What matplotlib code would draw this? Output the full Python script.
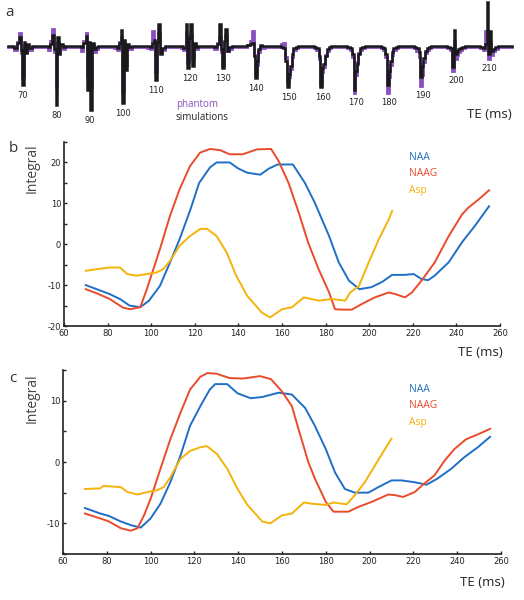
import matplotlib
matplotlib.use("Agg")
import matplotlib.pyplot as plt
import numpy as np

# ---------------- data ----------------
# panel a: spectra per TE (amplitudes, arbitrary units; sampled at fixed offsets around each peak group)
te_a = [70, 80, 90, 100, 110, 120, 130, 140, 150, 160, 170, 180, 190, 200, 210]
sim_a = [
    [0, -2, 3, 9, -4, -39, 4, -7, 2, -2, 0],
    [0, -1, 2, 11, -3, -59, 9, -8, 2, -1, 0],
    [0, -1, 3, 10, -44, 4, -64, 3, -3, -1, 0],
    [0, 0, -2, 3, 16, -57, 6, -24, 2, -1, 0],
    [0, 0, -1, 3, 6, -34, 4, 22, -8, -2, 0],
    [0, 0, -2, 22, -22, 8, 22, -20, 3, -1, 0],
    [0, -1, 2, 22, -3, -22, 5, 17, -5, -1, 0],
    [0, 1, 2, 3, -10, -32, -15, -3, 1, 0, 0],
    [0, -1, -2, -15, -41, -28, -20, -8, -2, -1, 0],
    [0, -1, -2, -10, -41, -22, -18, -10, -3, -1, 0],
    [0, -1, -2, -8, -44, -25, -18, -8, -2, -1, 0],
    [0, -1, -2, -8, -39, -25, -15, -6, -2, -1, 0],
    [0, -1, -2, -6, -31, -20, -12, -5, -2, -1, 0],
    [0, -1, -2, -21, 16, -8, -5, -3, -2, -1, 0],
    [0, -1, -2, 2, 44, -8, 15, -5, -3, -1, 0],
]
phantom_a = [
    [0, -3, 5, 14, -6, -30, 2, -5, 1, -3, 0],
    [0, -3, 6, 18, -5, -40, 4, -6, 1, -2, 0],
    [0, -4, 6, 14, -30, 3, -40, 2, -5, -2, 0],
    [0, -1, -3, 5, 10, -45, 4, -18, 1, -2, 0],
    [0, -1, -2, 16, 4, -25, 3, 14, -6, -3, 0],
    [0, -1, -3, 15, -15, 6, 12, -12, 2, -2, 0],
    [0, -2, 4, 10, -5, -18, 4, 12, -4, -2, 0],
    [0, 2, 6, 16, -8, -28, -18, -5, 0, -1, 0],
    [0, 3, 4, -10, -35, -30, -22, -10, -3, -1, 0],
    [0, -1, -3, -12, -38, -25, -20, -8, -4, -1, 0],
    [0, -1, -3, -10, -46, -28, -15, -6, -3, -1, 0],
    [0, -1, -3, -10, -46, -30, -18, -8, -3, -1, 0],
    [0, -1, -4, -10, -39, -28, -15, -6, -3, -1, 0],
    [0, -1, -3, -24, 6, -12, -8, -5, -3, -1, 0],
    [0, -1, -3, 16, 10, -12, 5, -8, -4, -2, 0],
]

# panel b
b_naa_te = [70, 75, 81, 86, 90, 95, 99, 104, 108.6, 113, 118, 122, 127, 130, 136, 140, 144, 150, 154, 158, 165,
            170.5, 175, 181.6, 186, 190.7, 195.5, 201, 206, 210.5, 216, 220.4, 224, 227, 230, 236.5, 242.6, 248.5, 255]
b_naa = [-10, -11, -12.2, -13.5, -15, -15.4, -13.8, -10.2, -4.5, 1.2, 8.5, 15, 18.8, 20, 20, 18.5, 17.5, 17, 18.5,
         19.5, 19.5, 15, 10.2, 2, -4.4, -8.9, -11, -10.5, -9.2, -7.5, -7.5, -7.3, -8.5, -8.8, -7.7, -4.4, 0.5, 4.5, 9.3]
b_naag_te = [70, 75, 81, 87, 90.3, 95, 98, 101, 104, 108.6, 113, 117.8, 122.4, 127, 131.6, 136, 142, 148.5, 155,
             158.5, 163, 167.7, 172, 176.8, 181.6, 184.3, 188, 192, 196.7, 202.6, 209, 212, 216.4, 219.6, 224, 230,
             236.5, 242.6, 245.6, 250.3, 255]
b_naag = [-11, -12, -13.4, -15.5, -15.9, -15.4, -11, -6.1, -1.2, 6.9, 13.4, 19.1, 22.4, 23.3, 23, 22, 22, 23.2, 23.3,
          20.3, 15, 7.7, 0.4, -6.1, -11.8, -15.9, -16, -16, -14.6, -13, -11.8, -12.2, -13, -11.8, -8.9, -4.5, 2, 7.3,
          9, 11, 13.2]
b_asp_te = [70, 75, 81, 85.7, 89, 93.3, 98, 102.5, 105.5, 108.6, 113, 117.8, 122.4, 125.5, 130, 134.6, 139, 144,
            150.7, 154.5, 160, 164.6, 170, 176.8, 183, 189, 191.3, 195.3, 199.8, 204.4, 209, 210.5]
b_asp = [-6.5, -6.1, -5.7, -5.7, -7.3, -7.7, -7.3, -6.9, -6.1, -4.1, -0.4, 2, 3.7, 3.8, 2, -2, -7.7, -12.6, -16.7,
         -17.9, -15.9, -15.4, -13, -13.8, -13.4, -13.8, -11.8, -10.2, -4.4, 1.2, 6.1, 8.1]

# panel c
c_naa_te = [70, 77, 81, 86.4, 91, 95.5, 100, 104.5, 109, 113.6, 118, 122.7, 127, 129.5, 135, 139.7, 145.7, 151, 158.5,
            164.5, 170.6, 175, 180, 184.2, 188.7, 193.3, 199.4, 204, 210, 214.5, 220.6, 226, 231, 237.3, 243.3, 249.4, 255]
c_naa = [-7.5, -8.4, -8.8, -9.7, -10.3, -10.7, -9.2, -6.8, -3.3, 1, 5.9, 9.1, 11.8, 12.7, 12.7, 11.2, 10.4, 10.6, 11.3,
         11, 8.8, 5.9, 2.1, -1.7, -4.4, -5, -5, -4.1, -3, -3, -3.3, -3.7, -2.7, -1.1, 0.8, 2.4, 4.1]
c_naag_te = [70, 77, 81, 86.4, 91, 94, 97, 100, 104.5, 109, 113.6, 118, 122.7, 126, 130, 136, 142, 150, 155, 160, 164.5,
             167.6, 172, 175, 180, 183.5, 190.3, 195, 201, 208.5, 211.5, 215.3, 220.6, 225, 229.6, 234.2, 238.7, 244,
             249.4, 255]
c_naag = [-8.4, -9.2, -9.7, -10.8, -11.2, -10.8, -8.7, -6, -1.1, 3.7, 8, 11.8, 13.9, 14.5, 14.4, 13.7, 13.6, 14, 13.5,
          11.5, 9.1, 5.3, 0, -2.7, -6.5, -8.1, -8.1, -7.3, -6.5, -5.3, -5.4, -5.7, -4.9, -3.5, -2.2, 0.2, 2.1, 3.7, 4.5,
          5.4]
c_asp_te = [70, 77, 78.5, 86.4, 89.5, 94, 98.5, 103, 106, 109, 113.6, 118, 122.7, 125.7, 130.3, 135, 139.7, 144.2, 151,
            154.7, 160, 164.5, 170, 173.5, 180, 183.5, 189.5, 193.3, 197.8, 202.4, 207, 210]
c_asp = [-4.4, -4.3, -3.9, -4.1, -4.9, -5.3, -4.9, -4.6, -4.1, -2.5, 0.5, 1.8, 2.4, 2.6, 1.3, -1.1, -4.4, -7, -9.7,
         -10, -8.7, -8.4, -6.6, -6.8, -7, -6.6, -6.9, -5.4, -3.3, -0.6, 2.1, 3.8]

series_names = ["NAA", "NAAG", "Asp"]
x_ticks = [60, 80, 100, 120, 140, 160, 180, 200, 220, 240, 260]

# ---------------- style ----------------
C_NAA = "#1f6fc6"
C_NAAG = "#e94b2c"
C_ASP = "#f5b30a"
C_PH = "#8a4fc0"
TICKFONT = ["Liberation Sans Narrow", "DejaVu Sans"]
TXTFONT = ["Open Sans", "DejaVu Sans"]

fig = plt.figure(figsize=(5.24, 6.0), dpi=100)

# ---------------- panel a ----------------
axa = fig.add_axes([0, 1 - 130 / 600, 1, 130 / 600])
axa.set_xlim(0, 524)
axa.set_ylim(-84, 46)
axa.axis("off")
offs = np.array([-10, -7.5, -5, -3, -1.5, 0, 1.5, 3, 5, 7.5, 10])


def center(te):
    return 23 + (te - 70) * 3.33


def build(traces):
    xs, ys = [8], [0]
    for te, tr in zip(te_a, traces):
        xs.extend(center(te) + offs)
        ys.extend(tr)
    xs.append(512)
    ys.append(0)
    return np.array(xs), np.array(ys)


xp, yp = build(phantom_a)
xs_, ys_ = build(sim_a)
axa.plot(xp, yp - 0.8, color=C_PH, lw=2.0, drawstyle="steps-mid", solid_joinstyle="miter")
axa.plot(xs_, ys_, color="#1a1a1a", lw=1.8, drawstyle="steps-mid", solid_joinstyle="miter")
for te, s, p in zip(te_a, sim_a, phantom_a):
    lo = min(min(s), min(p))
    axa.text(center(te), lo - 6, str(te), ha="center", va="top", fontsize=6,
             family=TICKFONT, color="#222222")
axa.text(10, 33, "a", fontsize=11, family=TXTFONT, color="#333333", va="center", ha="center")
axa.text(176, -58, "phantom", fontsize=7, family=TXTFONT, color=C_PH, va="center")
axa.text(176, -71, "simulations", fontsize=7, family=TXTFONT, color="#222222", va="center")
axa.text(512, -69, "TE (ms)", fontsize=9.5, family=TXTFONT, color="#222222", va="center", ha="right")


# ---------------- panels b, c ----------------
def style_axis(ax, ylim, yticks_all, ylabels):
    ax.set_xlim(60, 260)
    ax.set_ylim(*ylim)
    for s in ["top", "right"]:
        ax.spines[s].set_visible(False)
    for s in ["left", "bottom"]:
        ax.spines[s].set_linewidth(1.2)
        ax.spines[s].set_color("#222222")
    ax.set_xticks(x_ticks)
    ax.set_xticklabels([str(t) for t in x_ticks], family=TICKFONT, fontsize=6, color="#222222")
    ax.set_yticks(yticks_all)
    ax.set_yticklabels([str(t) if t in ylabels else "" for t in yticks_all],
                       family=TICKFONT, fontsize=6, color="#222222")
    ax.tick_params(direction="in", length=2.5, width=1, pad=2, colors="#222222")


def draw_panel(rect, data, ylim, yticks_all, ylabels, leg_y):
    ax = fig.add_axes(rect)
    colors = [C_NAA, C_NAAG, C_ASP]
    for (te, v), c in zip(data, colors):
        ax.plot(te, v, color=c, lw=1.4)
    style_axis(ax, ylim, yticks_all, ylabels)
    for i, (name, c) in enumerate(zip(series_names, colors)):
        fig.text(409 / 524, 1 - (leg_y + 16.5 * i) / 600, name, color=c, fontsize=7.5,
                 family=TXTFONT, va="center", ha="left")
    return ax


axb = draw_panel([64 / 524, 1 - 326 / 600, 436 / 524, 184 / 600],
                 [(b_naa_te, b_naa), (b_naag_te, b_naag), (b_asp_te, b_asp)],
                 (-20, 25), list(range(-20, 26, 5)), [-20, -10, 0, 10, 20], 157)
axc = draw_panel([63 / 524, 1 - 554 / 600, 438 / 524, 184 / 600],
                 [(c_naa_te, c_naa), (c_naag_te, c_naag), (c_asp_te, c_asp)],
                 (-15, 15), list(range(-15, 16, 5)), [-10, 0, 10], 389)

fig.text(13 / 524, 1 - 148 / 600, "b", fontsize=11, family=TXTFONT, color="#333333", va="center", ha="center")
fig.text(13 / 524, 1 - 378 / 600, "c", fontsize=11, family=TXTFONT, color="#333333", va="center", ha="center")
fig.text(32 / 524, 1 - 168 / 600, "Integral", fontsize=10, family=TXTFONT, color="#444444",
         rotation=90, va="center", ha="center")
fig.text(32 / 524, 1 - 398 / 600, "Integral", fontsize=10, family=TXTFONT, color="#444444",
         rotation=90, va="center", ha="center")
fig.text(503 / 524, 1 - 352 / 600, "TE (ms)", fontsize=9.5, family=TXTFONT, color="#222222", va="center", ha="right")
fig.text(505 / 524, 1 - 582 / 600, "TE (ms)", fontsize=9.5, family=TXTFONT, color="#222222", va="center", ha="right")

fig.savefig("out.png", dpi=100)
